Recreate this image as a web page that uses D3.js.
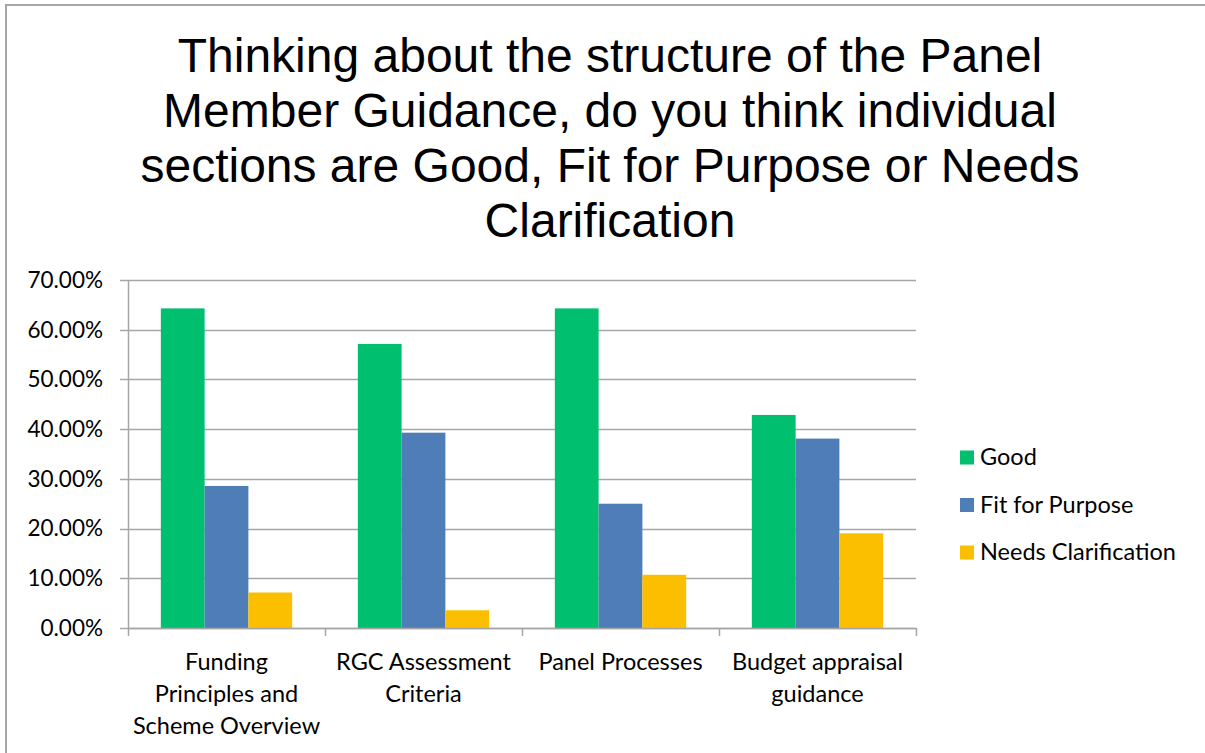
<!DOCTYPE html>
<html>
<head>
<meta charset="utf-8">
<script src="https://cdn.jsdelivr.net/npm/d3@7"></script>
<style>
  html, body { margin: 0; padding: 0; background: #fff; }
  svg { display: block; }
</style>
</head>
<body>
<svg id="chart" width="1205" height="753"></svg>
<script>
// Survey results: rating of each section of the Panel Member Guidance
const categories = [
  "Funding Principles and Scheme Overview",
  "RGC Assessment Criteria",
  "Panel Processes",
  "Budget appraisal guidance"
];
const categoryLines = [
  ["Funding", "Principles and", "Scheme Overview"],
  ["RGC Assessment", "Criteria"],
  ["Panel Processes"],
  ["Budget appraisal", "guidance"]
];
const seriesNames = ["Good", "Fit for Purpose", "Needs Clarification"];
const good = [0.6429, 0.5714, 0.6429, 0.4286];
const fitForPurpose = [0.2857, 0.3929, 0.25, 0.3810];
const needsClarification = [0.0714, 0.0357, 0.1071, 0.1905];
const yTicks = [0, 0.1, 0.2, 0.3, 0.4, 0.5, 0.6, 0.7];
const titleLines = [
  "Thinking about the structure of the Panel",
  "Member Guidance, do you think individual",
  "sections are Good, Fit for Purpose or Needs",
  "Clarification"
];
const colors = ["#00BF6F", "#4F7DB7", "#FBBF00"];

const seriesValues = [good, fitForPurpose, needsClarification];
const rows = categories.map((c, i) => ({
  category: c,
  values: seriesNames.map((s, k) => ({ series: s, value: seriesValues[k][i], k }))
}));

const svg = d3.select("#chart");
const bodyFont = "Lato, 'Open Sans', sans-serif";

// outer frame
svg.append("rect")
  .attr("x", 6).attr("y", 5)
  .attr("width", 1220).attr("height", 780)
  .attr("fill", "none").attr("stroke", "#A6A6A6").attr("stroke-width", 2);

// title
svg.append("g").selectAll("text")
  .data(titleLines)
  .join("text")
  .attr("x", 610)
  .attr("y", (d, i) => 72 + i * 55)
  .attr("text-anchor", "middle")
  .attr("font-family", "'Liberation Sans', Arial, sans-serif")
  .attr("font-size", 48)
  .attr("fill", "#000")
  .text(d => d);

const plot = { left: 128, right: 916, top: 280, bottom: 628 };

const x = d3.scaleBand()
  .domain(categories)
  .range([plot.left, plot.right])
  .paddingInner(0).paddingOuter(0);

const xSub = d3.scaleBand()
  .domain(seriesNames)
  .range([0, x.bandwidth()])
  .paddingInner(0).paddingOuter(0.75);

const y = d3.scaleLinear()
  .domain([0, 0.7])
  .range([plot.bottom, plot.top]);

// horizontal gridlines with left tick stubs
svg.append("g")
  .selectAll("line")
  .data(yTicks)
  .join("line")
  .attr("x1", plot.left - 8).attr("x2", plot.right)
  .attr("y1", d => Math.round(y(d)) + 0.5).attr("y2", d => Math.round(y(d)) + 0.5)
  .attr("stroke", "#A6A6A6").attr("stroke-width", 1.5);

// y-axis tick labels
const fmt = d3.format(".2%");
svg.append("g")
  .selectAll("text")
  .data(yTicks)
  .join("text")
  .attr("x", plot.left - 25)
  .attr("y", d => y(d))
  .attr("dy", "0.35em")
  .attr("text-anchor", "end")
  .attr("font-family", bodyFont)
  .attr("font-size", 22.5)
  .attr("fill", "#000")
  .text(d => fmt(d));

// bars
const groups = svg.append("g")
  .selectAll("g")
  .data(rows)
  .join("g")
  .attr("transform", d => `translate(${x(d.category)},0)`);

groups.selectAll("rect")
  .data(d => d.values)
  .join("rect")
  .attr("x", d => xSub(d.series))
  .attr("width", xSub.bandwidth())
  .attr("y", d => y(d.value))
  .attr("height", d => y(0) - y(d.value))
  .attr("fill", d => colors[d.k]);

// y axis line
svg.append("line")
  .attr("x1", plot.left + 0.5).attr("x2", plot.left + 0.5)
  .attr("y1", plot.top).attr("y2", plot.bottom)
  .attr("stroke", "#A6A6A6").attr("stroke-width", 1.5);

// x axis baseline and category ticks
svg.append("line")
  .attr("x1", plot.left).attr("x2", plot.right)
  .attr("y1", plot.bottom + 0.5).attr("y2", plot.bottom + 0.5)
  .attr("stroke", "#A6A6A6").attr("stroke-width", 1.5);

const boundaries = categories.map(c => x(c)).concat([plot.right]);
svg.append("g")
  .selectAll("line")
  .data(boundaries)
  .join("line")
  .attr("x1", d => d + 0.5).attr("x2", d => d + 0.5)
  .attr("y1", plot.bottom).attr("y2", plot.bottom + 8)
  .attr("stroke", "#A6A6A6").attr("stroke-width", 1.5);

// category labels
const labelGroups = svg.append("g")
  .selectAll("text")
  .data(categories)
  .join("text")
  .attr("text-anchor", "middle")
  .attr("font-family", bodyFont)
  .attr("font-size", 23.5)
  .attr("fill", "#000");

labelGroups.selectAll("tspan")
  .data((d, i) => categoryLines[i].map(line => ({ line, c: d })))
  .join("tspan")
  .attr("x", d => x(d.c) + x.bandwidth() / 2)
  .attr("y", (d, j) => 670 + j * 32)
  .text(d => d.line);

// legend
const legend = svg.append("g")
  .selectAll("g")
  .data(seriesNames)
  .join("g")
  .attr("transform", (d, i) => `translate(960,${457 + i * 47.5})`);

legend.append("rect")
  .attr("x", 0).attr("y", -6.5)
  .attr("width", 14).attr("height", 14)
  .attr("fill", (d, i) => colors[i]);

legend.append("text")
  .attr("x", 20).attr("y", 0)
  .attr("dy", "0.35em")
  .attr("font-family", bodyFont)
  .attr("font-size", 23.5)
  .attr("fill", "#000")
  .text(d => d);
</script>
</body>
</html>
